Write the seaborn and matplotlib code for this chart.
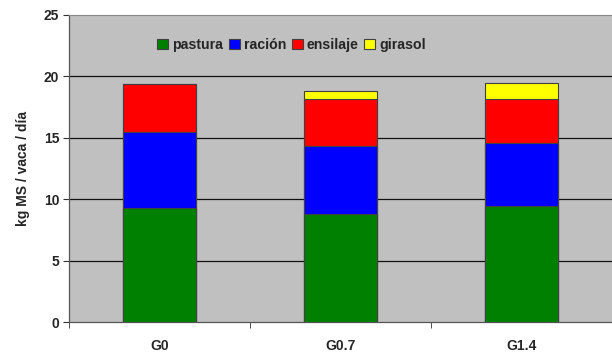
# Stacked intake by diet component for the three groups
import numpy as np
import pandas as pd
import seaborn as sns
import matplotlib.pyplot as plt
from matplotlib.patches import Patch

sns.set_style('ticks')
plt.rcParams['font.family'] = ['Liberation Sans', 'DejaVu Sans']

groups = ['G0', 'G0.7', 'G1.4']
components = ['pastura', 'ración', 'ensilaje', 'girasol']
pastura = [9.3, 8.8, 9.45]
racion = [6.2, 5.55, 5.1]
ensilaje = [3.85, 3.8, 3.6]
girasol = [0.0, 0.63, 1.33]
colors = ['#008000', '#0000ff', '#ff0000', '#ffff00']

df = pd.DataFrame({
    'grupo': groups,
    'pastura': pastura,
    'ración': racion,
    'ensilaje': ensilaje,
    'girasol': girasol,
})
# cumulative tops so the layers can be drawn back to front
cum = df[components].cumsum(axis=1)

fig = plt.figure(figsize=(6.12, 3.55), dpi=100)
ax = fig.add_axes([69/612, 1-322/355, 543/612, 307/355])
ax.set_facecolor('#c0c0c0')

for comp, col in reversed(list(zip(components, colors))):
    sns.barplot(x=df['grupo'], y=cum[comp], color=col, width=0.4,
                edgecolor='#404040', linewidth=0.8, saturation=1, ax=ax, zorder=3)

for yv in [5, 10, 15, 20]:
    ax.axhline(yv, color='#111111', lw=0.9, zorder=1)

ax.set_ylim(0, 25)
ax.set_xlim(-0.5, 2.5)
ax.set_yticks(range(0, 26, 5))
ax.set_xticks([0, 1, 2])
ax.set_xticklabels(groups, fontsize=10, fontweight='bold')
ax.tick_params(axis='x', length=0, pad=12)
ax.set_xticks([-0.5, 0.5, 1.5, 2.5], minor=True)
ax.tick_params(axis='x', which='minor', length=4, color='#333333', direction='out')
ax.tick_params(axis='y', length=4, color='#333333', labelsize=10, pad=3)
for lab in ax.get_yticklabels():
    lab.set_fontweight('bold')

ax.set_xlabel('')
ax.set_ylabel('kg MS / vaca / día', fontsize=10, fontweight='bold', labelpad=10)

for side in ['left', 'bottom']:
    ax.spines[side].set_color('#555555')
    ax.spines[side].set_linewidth(0.9)
ax.spines['top'].set_color('#888888')
ax.spines['right'].set_visible(False)

handles = [Patch(facecolor=c, edgecolor='#404040', linewidth=0.8) for c in colors]
leg = ax.legend(handles, components, loc='center', bbox_to_anchor=(0.41, 0.902),
                ncol=4, frameon=False, handlelength=0.75, handleheight=0.75,
                handletextpad=0.3, columnspacing=0.4, prop={'size': 10.2, 'weight': 'bold'})

fig.savefig('out.png', dpi=100)
